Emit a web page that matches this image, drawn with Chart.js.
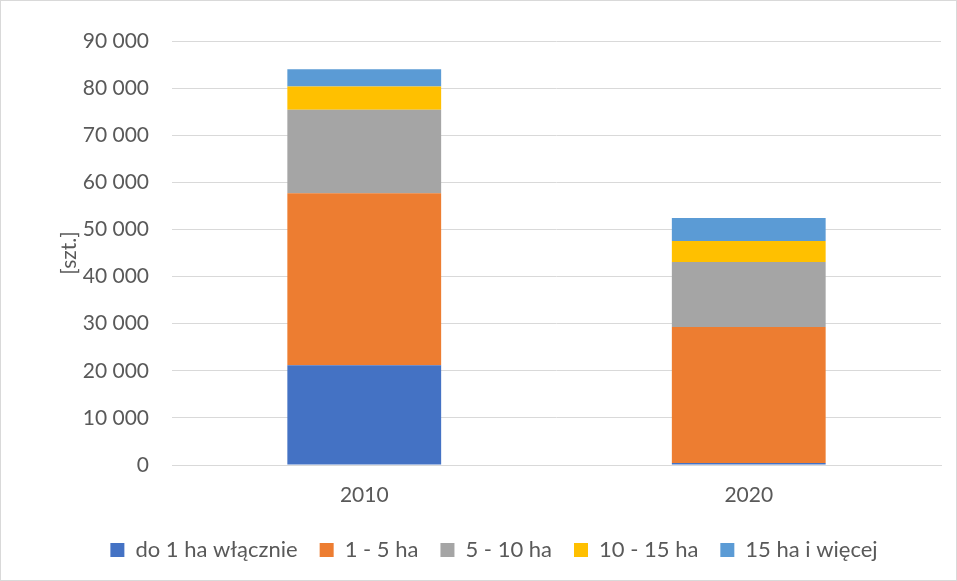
<!DOCTYPE html>
<html>
<head>
<meta charset="utf-8">
<script src="https://cdn.jsdelivr.net/npm/chart.js@4.4.0/dist/chart.umd.min.js"></script>
<style>
  html, body { margin: 0; padding: 0; background: #fff; }
  #wrap { position: relative; width: 957px; height: 581px; box-sizing: border-box; border: 1px solid #d9d9d9; }
  canvas { display: block; }
</style>
</head>
<body>
<div id="wrap"><canvas id="c" width="955" height="579"></canvas></div>
<script>
// Liczba gospodarstw według grup obszarowych
const years = ['2010', '2020'];
const seriesNames = ['do 1 ha włącznie', '1 - 5 ha', '5 - 10 ha', '10 - 15 ha', '15 ha i więcej'];
const do1ha = [21150, 450];
const od1do5 = [36510, 28850];
const od5do10 = [17740, 13770];
const od10do15 = [4960, 4470];
const od15 = [3620, 4890];
const colors = ['#4472C4', '#ED7D31', '#A5A5A5', '#FFC000', '#5B9BD5'];
const yTicksMax = 90000;
const yTickStep = 10000;

const seriesValues = [do1ha, od1do5, od5do10, od10do15, od15];
const FONT = 'Lato, "Open Sans", sans-serif';

const datasets = seriesNames.map((name, i) => ({
  label: name,
  data: seriesValues[i],
  backgroundColor: colors[i],
  borderWidth: 0,
  barPercentage: 0.8,
  categoryPercentage: 0.5
}));

new Chart(document.getElementById('c'), {
  type: 'bar',
  data: { labels: years, datasets },
  options: {
    responsive: false,
    animation: false,
    layout: { padding: { left: 46, right: 15, top: 40, bottom: 9 } },
    plugins: {
      tooltip: { enabled: false },
      legend: {
        position: 'bottom',
        labels: {
          font: { family: FONT, size: 22 },
          color: '#595959',
          boxWidth: 14,
          boxHeight: 14,
          padding: 22
        }
      }
    },
    scales: {
      x: {
        stacked: true,
        afterFit: (s) => { s.height = 52; },
        grid: { display: false, drawTicks: false },
        border: { display: true, color: '#d9d9d9', width: 1 },
        ticks: { font: { family: FONT, size: 21 }, color: '#595959', padding: 18 }
      },
      y: {
        stacked: true,
        min: 0,
        max: yTicksMax,
        afterFit: (s) => { s.width = 125; },
        grid: { color: '#d9d9d9', lineWidth: 1, drawTicks: false },
        border: { display: false },
        ticks: {
          stepSize: yTickStep,
          padding: 23,
          font: { family: FONT, size: 21 },
          color: '#595959',
          callback: (v) => v === 0 ? '0' : String(v).replace(/\B(?=(\d{3})+(?!\d))/g, ' ')
        },
        title: {
          display: true,
          text: '[szt.]',
          font: { family: FONT, size: 21 },
          color: '#595959',
          padding: { top: 10, bottom: 0 }
        }
      }
    }
  }
});
</script>
</body>
</html>
